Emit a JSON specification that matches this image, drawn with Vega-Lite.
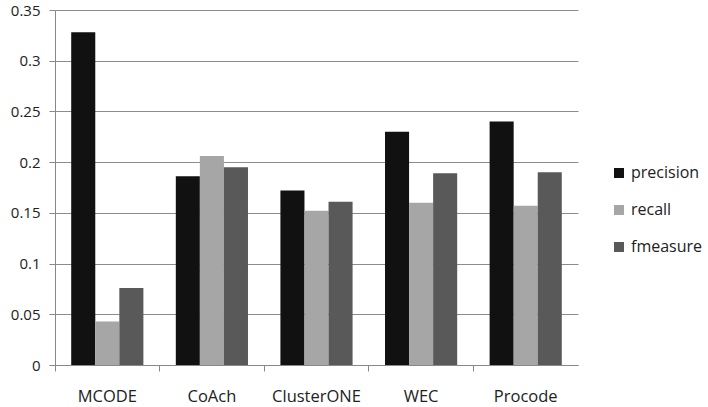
{
  "$schema": "https://vega.github.io/schema/vega-lite/v6.json",
  "width": 523,
  "height": 355,
  "autosize": {"type": "none"},
  "padding": {"left": 55, "top": 10, "right": 130, "bottom": 42},
  "background": "white",
  "data": {
    "values": [
      {"method": "MCODE", "measure": "precision", "value": 0.328},
      {"method": "MCODE", "measure": "recall", "value": 0.043},
      {"method": "MCODE", "measure": "fmeasure", "value": 0.076},
      {"method": "CoAch", "measure": "precision", "value": 0.186},
      {"method": "CoAch", "measure": "recall", "value": 0.206},
      {"method": "CoAch", "measure": "fmeasure", "value": 0.195},
      {"method": "ClusterONE", "measure": "precision", "value": 0.172},
      {"method": "ClusterONE", "measure": "recall", "value": 0.152},
      {"method": "ClusterONE", "measure": "fmeasure", "value": 0.161},
      {"method": "WEC", "measure": "precision", "value": 0.230},
      {"method": "WEC", "measure": "recall", "value": 0.160},
      {"method": "WEC", "measure": "fmeasure", "value": 0.189},
      {"method": "Procode", "measure": "precision", "value": 0.240},
      {"method": "Procode", "measure": "recall", "value": 0.157},
      {"method": "Procode", "measure": "fmeasure", "value": 0.190}
    ]
  },
  "mark": {"type": "bar"},
  "encoding": {
    "x": {
      "field": "method",
      "type": "nominal",
      "sort": ["MCODE", "CoAch", "ClusterONE", "WEC", "Procode"],
      "scale": {"paddingInner": 0.31, "paddingOuter": 0.155},
      "axis": {
        "title": null,
        "labelAngle": 0,
        "labelFontSize": 16.5,
        "labelFont": "Open Sans",
        "labelColor": "#222222",
        "labelPadding": 17,
        "bandPosition": -0.2246,
        "labelOffset": 0,
        "tickSize": 6,
        "tickColor": "#888888",
        "domainColor": "#888888",
        "grid": false
      }
    },
    "xOffset": {
      "field": "measure",
      "type": "nominal",
      "sort": ["precision", "recall", "fmeasure"],
      "scale": {"paddingInner": 0, "paddingOuter": 0}
    },
    "y": {
      "field": "value",
      "type": "quantitative",
      "scale": {"domain": [0, 0.35], "nice": false},
      "axis": {
        "title": null,
        "values": [0, 0.05, 0.1, 0.15, 0.2, 0.25, 0.3, 0.35],
        "format": ".2~f",
        "labelFontSize": 15,
        "labelFont": "Open Sans",
        "labelColor": "#222222",
        "labelPadding": 9,
        "tickSize": 6,
        "tickColor": "#888888",
        "domainColor": "#888888",
        "gridColor": "#8c8c8c",
        "gridWidth": 1
      }
    },
    "color": {
      "field": "measure",
      "type": "nominal",
      "sort": ["precision", "recall", "fmeasure"],
      "scale": {"domain": ["precision", "recall", "fmeasure"], "range": ["#111111", "#a6a6a6", "#595959"]},
      "legend": {
        "title": null,
        "orient": "none",
        "legendX": 556,
        "legendY": 155,
        "symbolType": "square",
        "symbolSize": 100,
        "symbolStrokeWidth": 0,
        "labelFontSize": 16,
        "labelFont": "Open Sans",
        "labelColor": "#222222",
        "rowPadding": 21,
        "labelOffset": 4
      }
    }
  },
  "config": {"view": {"stroke": null}}
}
